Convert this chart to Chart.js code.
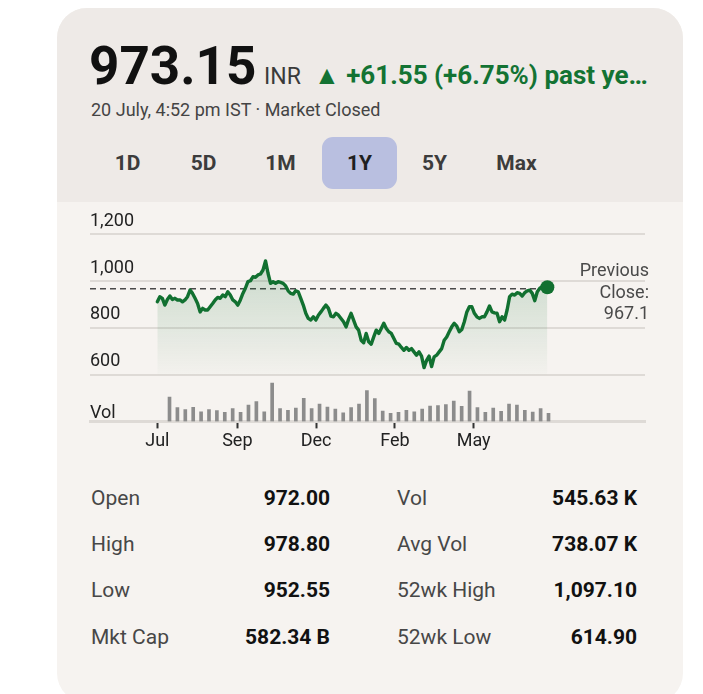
<!DOCTYPE html>
<html><head><meta charset="utf-8">
<script src="https://cdn.jsdelivr.net/npm/chart.js@4.4.1/dist/chart.umd.min.js"></script>
<style>
html,body{margin:0;padding:0;background:#fff;width:703px;height:694px;overflow:hidden;font-family:Roboto,"Noto Sans",sans-serif;}
.card{position:absolute;left:57px;top:8px;width:626px;height:695px;border-radius:30px;background:#f6f3f0;overflow:hidden;}
.head{position:absolute;left:0;top:0;width:100%;height:194px;background:#eeeae7;}
.abs{position:absolute;white-space:nowrap;}
.btn{position:absolute;top:137px;width:75px;height:52px;line-height:52px;text-align:center;font-weight:700;font-size:21px;color:#3c3c3c;border-radius:11px;}
.btn.on{background:#b9bfe0;color:#1f1f1f;}
.lbl{position:absolute;font-size:21px;line-height:46px;height:46px;color:#474747;white-space:nowrap;}
.val{position:absolute;font-size:21px;line-height:46px;height:46px;color:#111;font-weight:700;text-align:right;width:160px;white-space:nowrap;}
#chartBox{position:absolute;left:80px;top:200px;width:580px;height:260px;}
</style></head>
<body>
<div class="card"><div class="head"></div></div>

<div class="abs" style="left:89px;top:40px;font:700 53px/53px Roboto;color:#111;">973.15</div>
<div class="abs" style="left:264px;top:65px;font:400 23px/23px Roboto;color:#3a3a3a;">INR</div>
<div class="abs" style="left:314px;top:62px;font:700 26px/26px Roboto;color:#137333;">▲ +61.55 (+6.75%) past ye…</div>
<div class="abs" style="left:91px;top:101px;font:400 18px/18px Roboto;color:#444;">20 July, 4:52 pm IST · Market Closed</div>

<div class="btn" style="left:90px;">1D</div>
<div class="btn" style="left:166px;">5D</div>
<div class="btn" style="left:243px;">1M</div>
<div class="btn on" style="left:322px;">1Y</div>
<div class="btn" style="left:397px;">5Y</div>
<div class="btn" style="left:479px;">Max</div>

<div id="chartBox"><canvas id="c" width="580" height="260"></canvas></div>

<div class="abs" style="left:529px;top:259px;width:120px;text-align:right;font:400 18px/21.6px Roboto;color:#4a4a4a;white-space:normal;">Previous<br>Close:<br>967.1</div>

<div class="lbl" style="left:91px;top:475px;">Open</div>
<div class="val" style="left:170px;top:475px;">972.00</div>
<div class="lbl" style="left:397px;top:475px;">Vol</div>
<div class="val" style="left:477px;top:475px;">545.63 K</div>

<div class="lbl" style="left:91px;top:521px;">High</div>
<div class="val" style="left:170px;top:521px;">978.80</div>
<div class="lbl" style="left:397px;top:521px;">Avg Vol</div>
<div class="val" style="left:477px;top:521px;">738.07 K</div>

<div class="lbl" style="left:91px;top:567px;">Low</div>
<div class="val" style="left:170px;top:567px;">952.55</div>
<div class="lbl" style="left:397px;top:567px;">52wk High</div>
<div class="val" style="left:477px;top:567px;">1,097.10</div>

<div class="lbl" style="left:91px;top:614px;">Mkt Cap</div>
<div class="val" style="left:170px;top:614px;">582.34 B</div>
<div class="lbl" style="left:397px;top:614px;">52wk Low</div>
<div class="val" style="left:477px;top:614px;">614.90</div>

<script>
// ---- data ----
const prices = [
  911, 933, 926, 897, 921, 936, 921, 926, 919, 919,
  911, 919, 933, 961, 947, 926, 904, 868, 883, 876,
  876, 890, 904, 919, 930, 926, 940, 933, 954, 940,
  919, 911, 897, 919, 947, 969, 997, 1001, 1018, 1016,
  1026, 1030, 1047, 1086, 1033, 990, 997, 990, 997, 994,
  990,
  979, 958, 947, 944, 958, 954, 926, 897, 862, 840,
  833, 847, 833, 854, 868, 883, 897, 883, 850, 847,
  862, 854, 840, 826, 804, 836, 862, 833, 804, 790,
  747, 736, 776, 740, 730, 761, 790, 776, 797, 819,
  797, 783, 776, 754, 733, 730, 716, 704, 716, 704,
  711, 697, 683, 697, 679, 630, 661, 679, 634, 676,
  683, 697, 711, 747, 761, 783, 804, 819, 807, 783,
  793, 826, 868, 890, 890, 862, 847, 840, 847, 847,
  868, 893, 868, 864, 862, 826, 847, 833, 876, 933,
  944, 940, 950, 947, 936, 950, 958, 961, 947, 916,
  954, 969, 976, 973, 973.15
];
const volumesK = [
  1460, 820, 700, 840, 580, 700, 640, 540, 760, 540,
  980, 1180, 580, 2300, 760, 660, 800, 1380, 760, 1040,
  860, 740, 520, 820, 1040, 1840, 1360, 620, 480, 540,
  660, 580, 740, 920, 940, 1000, 1220, 900, 1820, 820,
  540, 800, 600, 1040, 980, 660, 560, 760, 480
];
const xTickLabels = ['Jul', 'Sep', 'Dec', 'Feb', 'May'];
const xTickAt = [0, 31.8, 63.1, 94.4, 125.7];
const priceTicks = [600, 800, 1000, 1200];
const prevClose = 967.1;

const GREEN = '#117030';
const last = prices.length - 1;
const xMin = -26.75, xMax = 193.8;

const priceData = prices.map((p, i) => ({x: i, y: p}));
const volData = volumesK.map((v, i) => ({x: i, y: v}));
const axisFont = {family: 'Roboto', size: 18};

new Chart(document.getElementById('c'), {
  data: {
    datasets: [
      {
        type: 'line', label: 'Price', data: priceData, xAxisID: 'x', yAxisID: 'y',
        borderColor: GREEN, borderWidth: 3.4, tension: 0, order: 0,
        borderJoinStyle: 'round', borderCapStyle: 'round',
        pointRadius: ctx => ctx.dataIndex === last ? 7 : 0,
        pointHoverRadius: 0, pointBorderWidth: 0, pointBackgroundColor: GREEN,
        fill: {target: {value: 600}},
        backgroundColor: (ctx) => {
          const ch = ctx.chart;
          if (!ch.chartArea) return 'rgba(19,115,51,0.1)';
          const y = ch.scales.y;
          const g = ch.ctx.createLinearGradient(0, y.getPixelForValue(1100), 0, y.getPixelForValue(600));
          g.addColorStop(0, 'rgba(19,115,51,0.2)');
          g.addColorStop(1, 'rgba(19,115,51,0.01)');
          return g;
        }
      },
      {
        type: 'line', label: 'Previous close', xAxisID: 'x', yAxisID: 'y',
        data: [{x: xMin, y: prevClose}, {x: last + 2.3, y: prevClose}],
        borderColor: '#4a4a4a', borderWidth: 1.6, borderDash: [6, 4],
        pointRadius: 0, fill: false, order: 1
      },
      {
        type: 'bar', label: 'Volume', data: volData, xAxisID: 'xv', yAxisID: 'yv',
        backgroundColor: '#8c8c8c', barThickness: 3, order: 2
      }
    ]
  },
  options: {
    responsive: false, animation: false, devicePixelRatio: 1,
    layout: {padding: {left: 10, right: 15, top: 0, bottom: 6}},
    plugins: {legend: {display: false}, tooltip: {enabled: false}},
    scales: {
      x: {
        type: 'linear', position: 'bottom', min: xMin, max: xMax,
        afterBuildTicks: ax => { ax.ticks = xTickAt.map(v => ({value: v})); },
        ticks: {
          callback: (v, i) => xTickLabels[i], color: '#222',
          font: axisFont, padding: 2, maxRotation: 0, autoSkip: false
        },
        grid: {drawOnChartArea: false, drawTicks: true, tickLength: 7, tickColor: '#333', tickWidth: 2},
        border: {display: true, color: '#dedad6', width: 3}
      },
      xv: {type: 'linear', display: false, offset: false, min: -9.88, max: 60.41, grid: {offset: false}},
      y: {
        type: 'linear', position: 'left', min: 400, max: 1300,
        afterBuildTicks: ax => { ax.ticks = priceTicks.map(v => ({value: v})); },
        ticks: {
          mirror: true, padding: 0, labelOffset: -13, color: '#222',
          font: axisFont,
          callback: v => v.toLocaleString('en-US')
        },
        grid: {color: '#dedad6', lineWidth: 2, drawTicks: false},
        border: {display: false}
      },
      yv: {
        type: 'linear', position: 'left', min: 0, max: 12600,
        afterBuildTicks: ax => { ax.ticks = [{value: 0}]; },
        ticks: {
          mirror: true, padding: 0, labelOffset: -8, color: '#222',
          font: axisFont, callback: () => 'Vol'
        },
        grid: {display: false, drawTicks: false},
        border: {display: false}
      }
    }
  }
});
</script>
</body></html>
